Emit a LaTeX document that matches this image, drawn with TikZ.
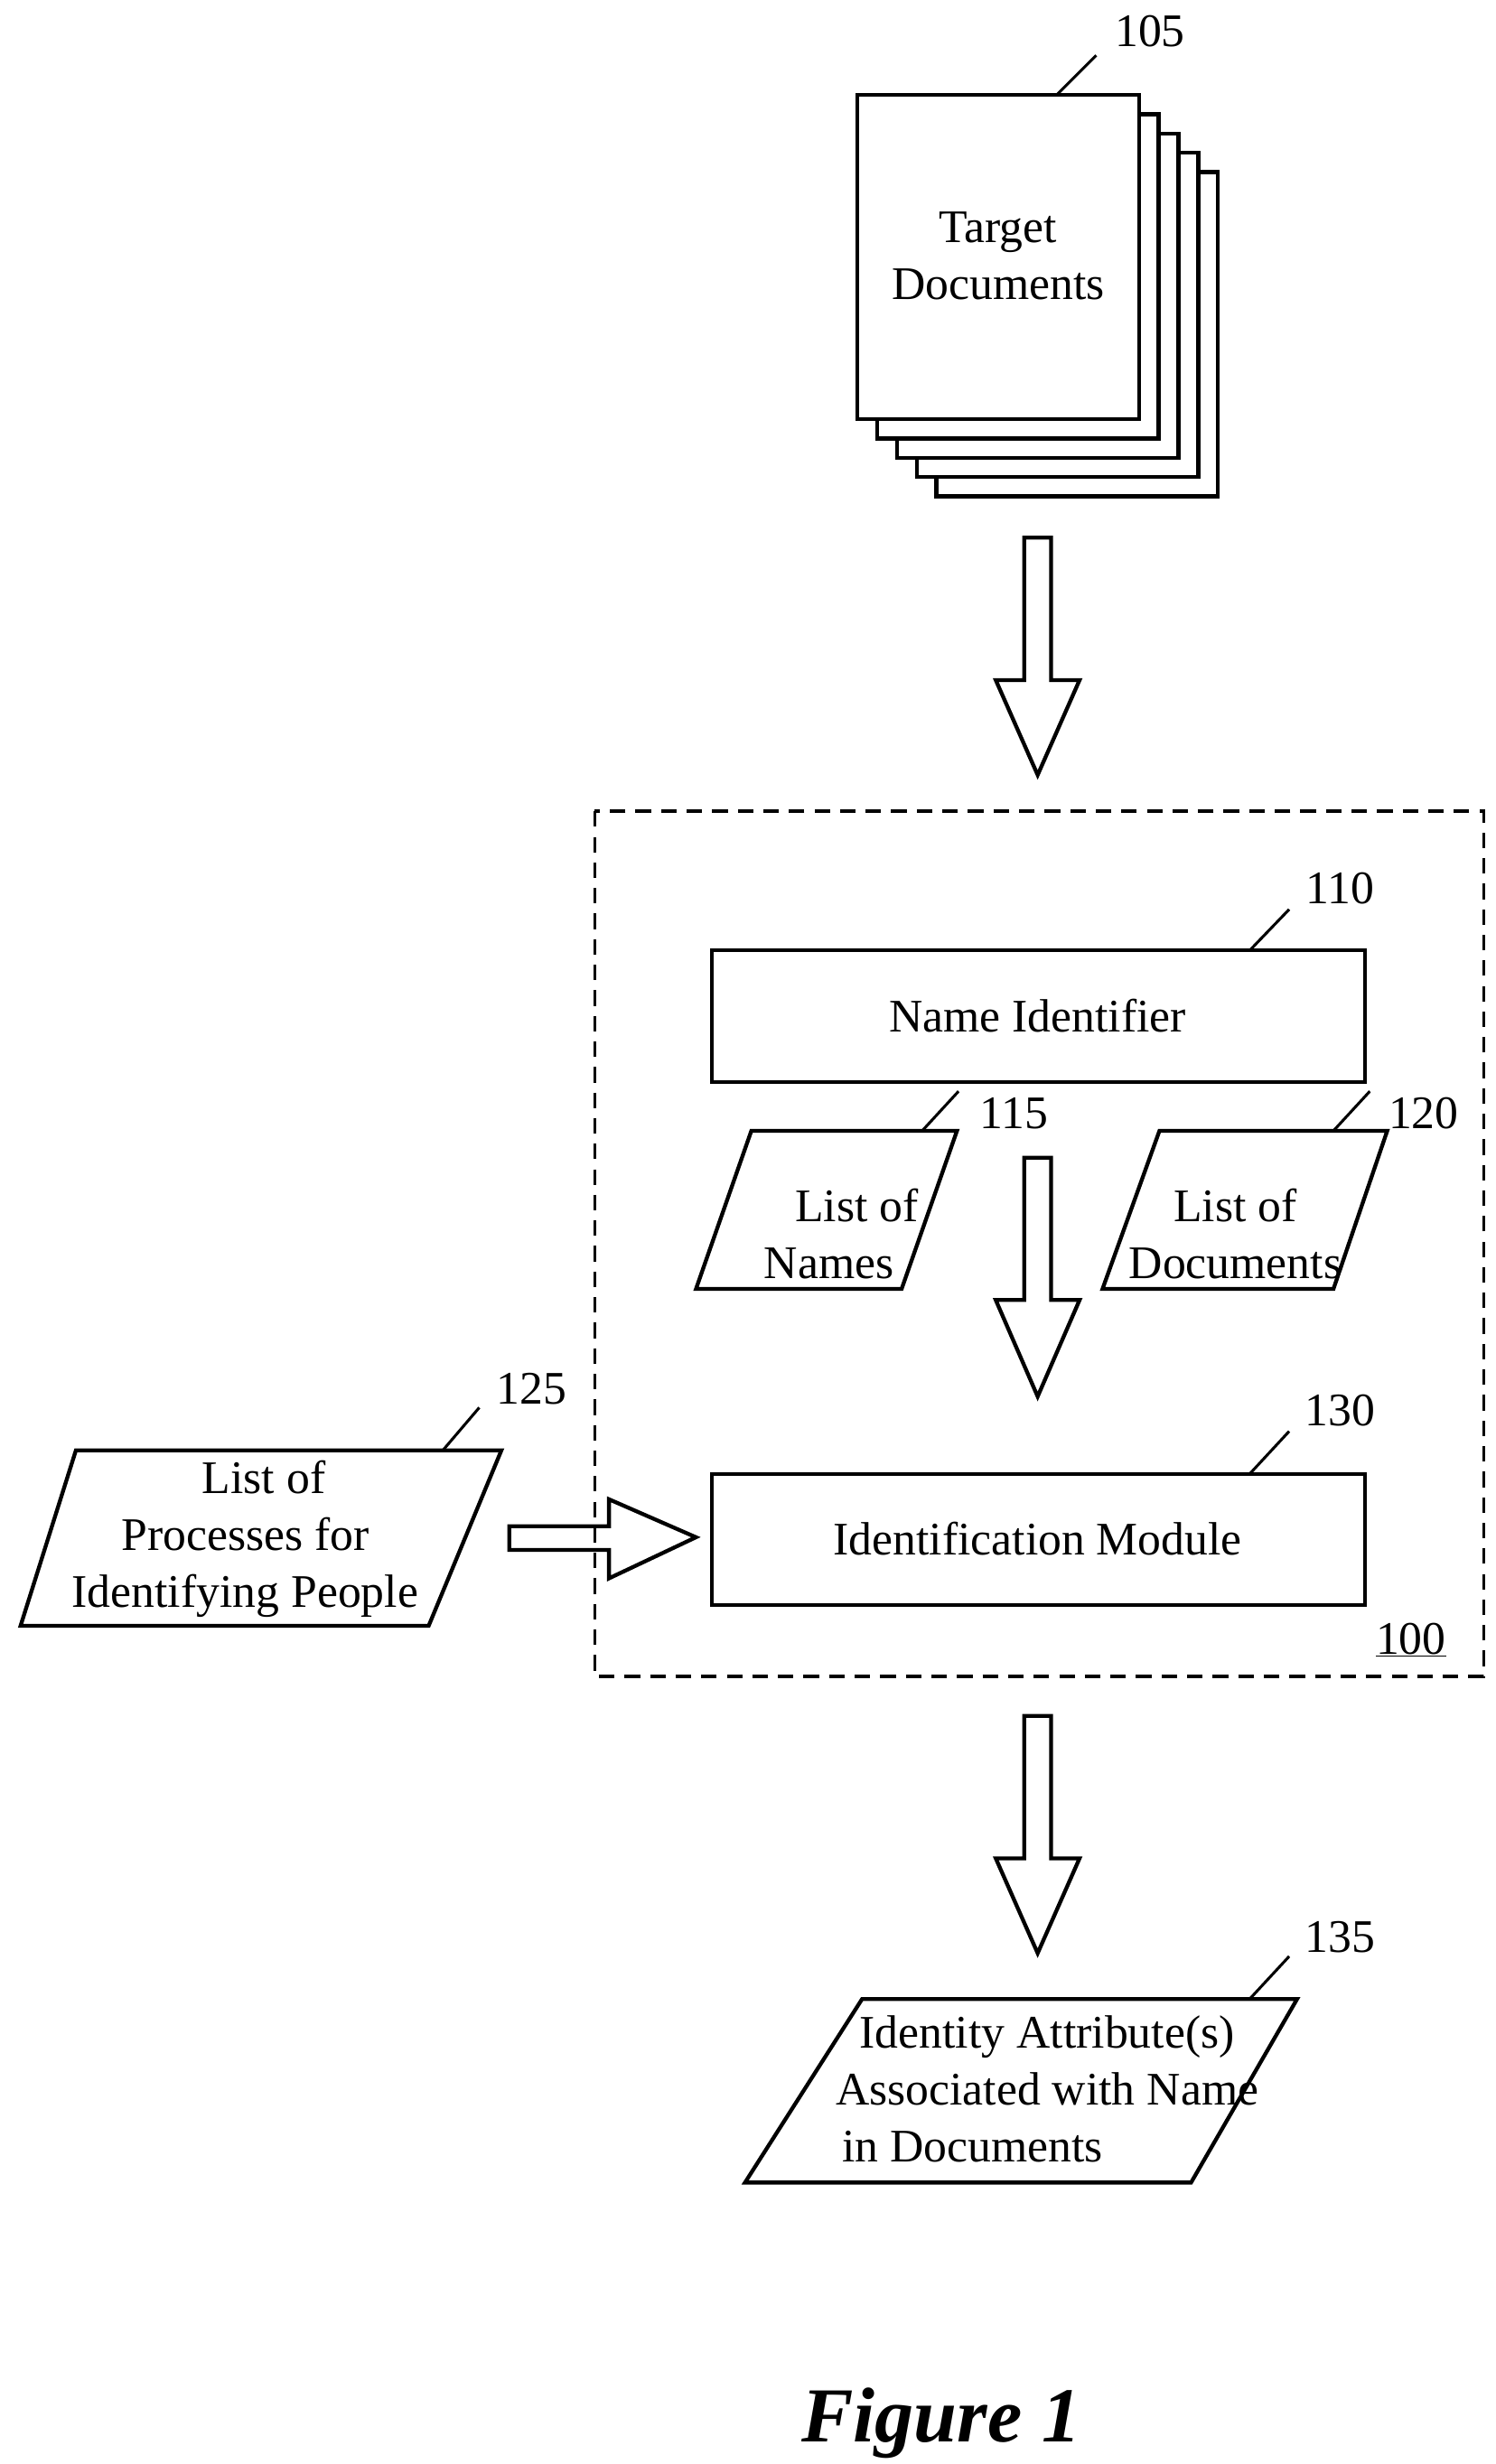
\documentclass[tikz,border=0pt]{standalone}
\usepackage{fontspec}
\setmainfont{Liberation Serif}
\usetikzlibrary{positioning}

\tikzset{
    box/.style={draw, line width=3.5pt},
    lbl/.style={font=\fontsize{42}{51}\selectfont, align=center},
    refnum/.style={font=\fontsize{42}{51}\selectfont},
    leader/.style={line width=2.5pt},
}

% block arrow pointing down: x center, shaft top, head top, tip
\newcommand{\downarrowblk}[4]{%
    \draw[box, line join=miter] (#1-8.5,#2) -- (#1+8.5,#2) -- (#1+8.5,#3) -- (#1+26.5,#3)
        -- (#1,#4) -- (#1-26.5,#3) -- (#1-8.5,#3) -- cycle;}

\begin{document}
\begin{tikzpicture}[x=0.05cm, y=-0.05cm]
    \useasboundingbox (0,0) rectangle (945.2,1558);

    % Target documents stack
    \foreach \i in {4,3,2,1} {
        \draw[box, fill=white] (542+12.5*\i, 60+12.2*\i) rectangle (720+12.5*\i, 265+12.2*\i);
    }
    \draw[box, fill=white] (542,60) rectangle (720,265);
    \node[lbl] (docs) at (631,162) {Target\\Documents};
    \node[refnum] (n105) at (727,20) {105};
    \draw[leader] (668,60) -- (693,35);

    % arrow into system
    \downarrowblk{656}{340}{430}{490}

    % System 100
    \draw[line width=3pt, dash pattern=on 14pt off 9pt] (376,513) rectangle (938,1060);
    \node[refnum] (n100) at (892,1037) {\underline{100}};

    % Name identifier
    \draw[box] (450,601) rectangle (863,684);
    \node[lbl] (nameid) at (656,642) {Name Identifier};
    \node[refnum] (n110) at (847,562) {110};
    \draw[leader] (790,601) -- (815,575);

    % List of names
    \draw[box] (475,715) -- (605,715) -- (570,815) -- (440,815) -- cycle;
    \node[lbl] (names) at (524,780) {\hspace*{1.2em}List of\\Names};
    \node[refnum] (n115) at (641,704) {115};
    \draw[leader] (583,715) -- (606,690);

    % List of documents
    \draw[box] (733,715) -- (877,715) -- (843,815) -- (697,815) -- cycle;
    \node[lbl] (doclist) at (781,780) {List of\\Documents};
    \node[refnum] (n120) at (900,704) {120};
    \draw[leader] (843,715) -- (866,690);

    \downarrowblk{656}{732}{822}{883}

    % Identification module
    \draw[box] (450,932) rectangle (863,1015);
    \node[lbl] (identmod) at (656,973) {Identification Module};
    \node[refnum] (n130) at (847,892) {130};
    \draw[leader] (790,932) -- (815,905);

    % List of processes
    \draw[box] (48,917) -- (317,917) -- (271,1028) -- (13,1028) -- cycle;
    \node[lbl] (procs) at (155,973) {\hspace*{0.8em}List of\\Processes for\\Identifying People};
    \node[refnum] (n125) at (336,878) {125};
    \draw[leader] (280,917) -- (303,890);

    \draw[box, line join=miter] (322,965) -- (385,965) -- (385,948) -- (440,972)
        -- (385,998) -- (385,980) -- (322,980) -- cycle;

    \downarrowblk{656}{1085}{1175}{1235}

    % Identity attributes
    \draw[box] (545,1264) -- (820,1264) -- (753,1380) -- (471,1380) -- cycle;
    \node[lbl] (attrs) at (662,1321) {Identity Attribute(s)\\Associated with Name\\in Documents\hspace*{3.2em}};
    \node[refnum] (n135) at (847,1225) {135};
    \draw[leader] (790,1264) -- (815,1237);

    \node[font=\fontsize{70}{80}\selectfont\bfseries\itshape] (fig) at (595,1532) {Figure 1};
\end{tikzpicture}
\end{document}
